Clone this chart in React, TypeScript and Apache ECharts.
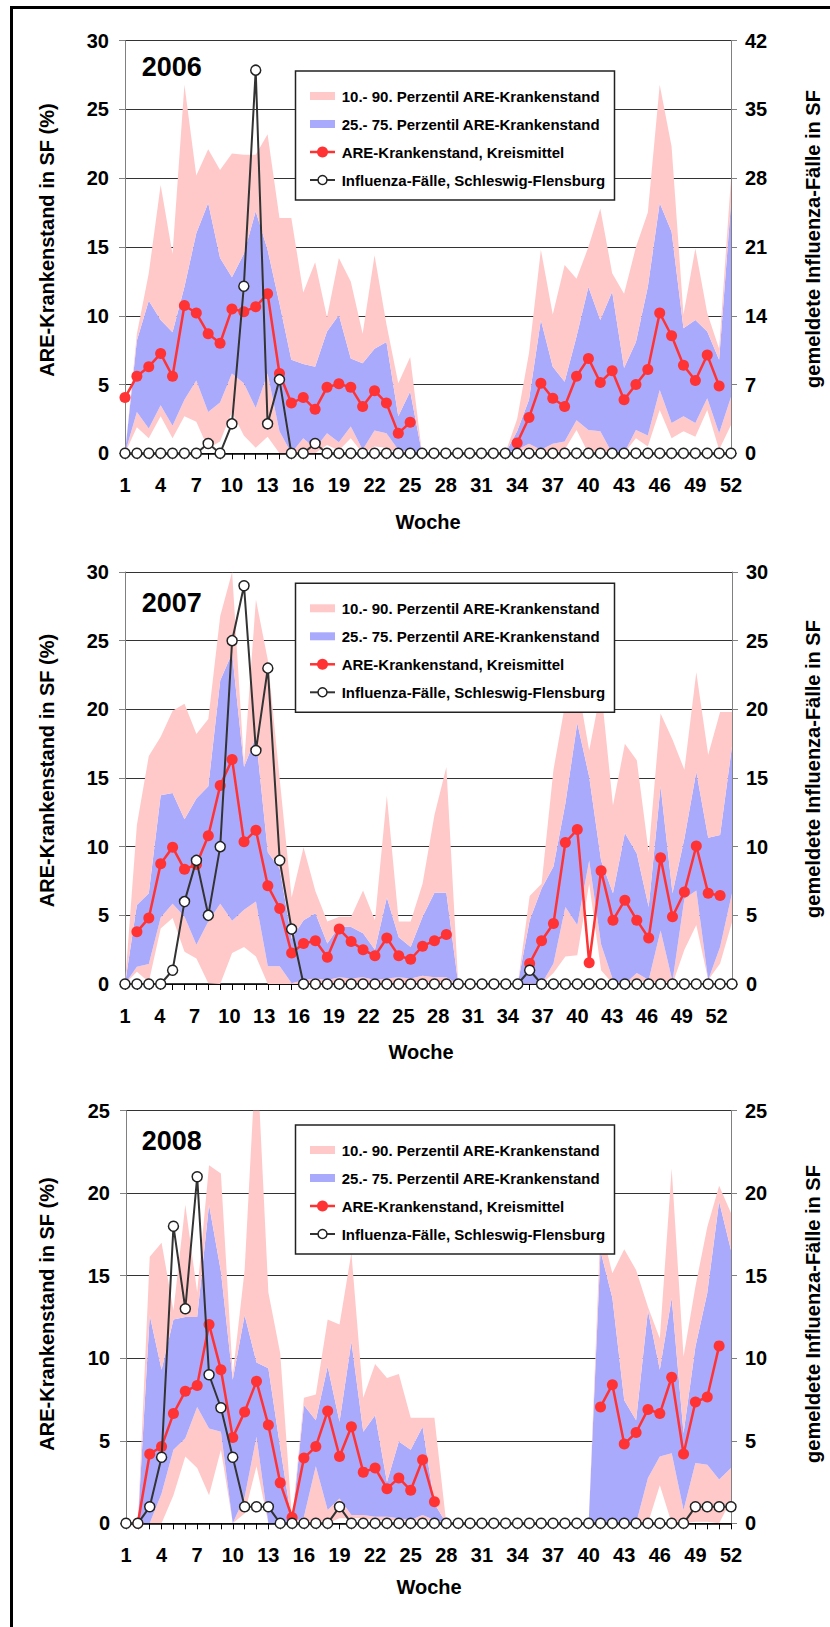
import React, { useEffect, useRef } from "react";
import * as echarts from "echarts";

// ---------- data ----------
const WEEKS = [
  "1","2","3","4","5","6","7","8","9","10","11","12","13","14","15","16","17","18","19","20",
  "21","22","23","24","25","26","27","28","29","30","31","32","33","34","35","36","37","38","39","40",
  "41","42","43","44","45","46","47","48","49","50","51","52",
];
const YEARS = ["2006", "2007", "2008"];
const LEGEND_LABELS = [
  "10.- 90. Perzentil ARE-Krankenstand",
  "25.- 75. Perzentil ARE-Krankenstand",
  "ARE-Krankenstand, Kreismittel",
  "Influenza-Fälle, Schleswig-Flensburg",
];
const LEFT_NAME = "ARE-Krankenstand in SF (%)";
const RIGHT_NAME = "gemeldete Influenza-Fälle in SF";
const X_NAME = "Woche";

// 2006
const mean06 = [4.05, 5.6, 6.3, 7.25, 5.6, 10.75, 10.2, 8.7, 8.0, 10.5,
  10.3, 10.65, 11.6, 5.8, 3.65, 4.05, 3.2, 4.8, 5.05, 4.8,
  3.4, 4.55, 3.65, 1.45, 2.25, null, null, null, null, null,
  null, null, null, 0.75, 2.6, 5.1, 4.0, 3.4, 5.6, 6.9,
  5.15, 6.0, 3.9, 5.0, 6.1, 10.2, 8.55, 6.4, 5.3, 7.15,
  4.9, null];
const flu06 = [0, 0, 0, 0, 0, 0, 0, 1, 0, 3,
  17, 39, 3, 7.5, 0, 0, 1, 0, 0, 0,
  0, 0, 0, 0, 0, 0, 0, 0, 0, 0,
  0, 0, 0, 0, 0, 0, 0, 0, 0, 0,
  0, 0, 0, 0, 0, 0, 0, 0, 0, 0,
  0, 0];
const p10_06 = [0, 1.9, 1.1, 2.7, 1.1, 2.7, 2.3, 0.35, 0.85, 3.0,
  1.3, 0.4, 1.2, 0, 0, 0, 0, 0.6, 0.2, 1.1,
  0, 0.5, 0.4, 0, 0, 0, 0, 0, 0, 0,
  0, 0, 0, 0, 0.5, 0, 0, 0.25, 1.7, 0,
  0, 0, 0, 1.1, 0.5, 3.15, 1.1, 1.6, 1.2, 3.15,
  0.25, 2.05];
const p25_06 = [0, 3.0, 1.8, 3.5, 2.0, 3.9, 5.3, 3.0, 3.7, 5.8,
  5.1, 3.3, 5.8, 1.6, 0, 1.1, 0.35, 1.45, 0.8, 1.95,
  0.25, 1.65, 1.45, 0.25, 0.1, 0, 0, 0, 0, 0,
  0, 0, 0, 0.25, 0.7, 0.25, 0.7, 0.85, 2.4, 1.7,
  1.6, 0, 0, 1.7, 1.3, 4.6, 2.2, 2.7, 2.2, 4.0,
  1.45, 4.1];
const p75_06 = [0, 8.2, 11.1, 9.7, 8.8, 12.1, 16.0, 18.2, 14.2, 12.8,
  14.5, 17.6, 14.8, 10.9, 6.8, 6.5, 6.3, 8.85, 10.05, 6.9,
  6.55, 7.6, 8.1, 2.7, 4.5, 0, 0, 0, 0, 0,
  0, 0, 0, 1.6, 3.9, 9.7, 6.3, 5.2, 8.5, 12.1,
  9.7, 11.75, 6.2, 8.1, 12.1, 18.2, 16.1, 9.1, 9.7, 8.85,
  6.8, 18.2];
const p90_06 = [0, 8.7, 13.1, 19.5, 14.5, 26.8, 20.2, 22.1, 20.6, 21.8,
  21.7, 21.7, 23.2, 17.1, 17.1, 11.7, 13.9, 9.9, 14.2, 12.5,
  8.7, 14.4, 9.4, 5.1, 7.0, 0, 0, 0, 0, 0,
  0, 0, 0, 2.5, 7.3, 14.8, 10.1, 13.7, 12.7, 15.0,
  17.8, 13.1, 11.6, 15.0, 17.5, 26.8, 22.3, 10.1, 14.9, 10.2,
  7.6, 20.0];

// 2007
const mean07 = [null, 3.8, 4.8, 8.75, 9.95, 8.35, 8.7, 10.8, 14.45, 16.35,
  10.35, 11.2, 7.15, 5.5, 2.25, 2.95, 3.15, 1.95, 4.0, 3.1,
  2.5, 2.05, 3.35, 2.05, 1.8, 2.75, 3.15, 3.6, null, null,
  null, null, null, null, 1.5, 3.15, 4.4, 10.3, 11.25, 1.55,
  8.25, 4.65, 6.1, 4.65, 3.35, 9.2, 4.9, 6.7, 10.05, 6.6,
  6.45, null];
const flu07 = [0, 0, 0, 0, 1, 6, 9, 5, 10, 25,
  29, 17, 23, 9, 4, 0, 0, 0, 0, 0,
  0, 0, 0, 0, 0, 0, 0, 0, 0, 0,
  0, 0, 0, 0, 1, 0, 0, 0, 0, 0,
  0, 0, 0, 0, 0, 0, 0, 0, 0, 0,
  0, 0];
const p10_07 = [0, 0.9, 0.15, 4.05, 4.8, 2.35, 1.85, 0.05, 0, 2.25,
  2.7, 2.0, 0, 0, 0, 0, 0.1, 0, 0.1, 0,
  0.1, 0, 0, 0.1, 0, 0.1, 0.1, 0, 0, 0,
  0, 0, 0, 0, 0, 0, 0.8, 2.0, 2.1, 7.3,
  1.0, 0, 0, 0.4, 0, 0.2, 0, 2.5, 4.3, 0.3,
  1.5, 4.5];
const p25_07 = [0, 1.25, 1.45, 4.85, 5.85, 4.9, 2.85, 4.55, 5.85, 4.6,
  5.4, 6.0, 1.3, 1.3, 0.05, 0.3, 0.4, 0.3, 0.5, 0.4,
  0.5, 0.3, 0.4, 0.5, 0.4, 0.6, 0.5, 0.5, 0, 0,
  0, 0, 0, 0, 0.05, 0, 1.5, 5.6, 4.3, 9.0,
  2.9, 0.3, 0, 0.8, 0.3, 3.9, 0.2, 6.2, 6.8, 0,
  2.7, 6.6];
const p75_07 = [0, 5.75, 6.6, 13.75, 13.9, 12.0, 13.5, 14.4, 22.1, 24.1,
  15.8, 18.0, 9.6, 8.4, 3.3, 4.65, 5.15, 2.95, 4.2, 4.15,
  3.7, 2.5, 6.3, 3.4, 2.7, 4.9, 6.65, 6.65, 0, 0,
  0, 0, 0, 0, 4.65, 6.95, 8.55, 13.15, 19.0, 15.1,
  9.0, 6.6, 11.0, 9.5, 5.6, 14.4, 6.6, 10.6, 15.45, 10.35,
  10.85, 17.3];
const p90_07 = [0, 11.6, 16.6, 18.0, 19.9, 20.4, 18.2, 19.3, 26.8, 30.0,
  16.0, 28.0, 23.6, 14.9, 6.3, 9.95, 6.75, 4.55, 4.9, 4.9,
  6.8, 4.65, 13.7, 4.55, 4.55, 7.3, 12.3, 15.8, 0, 0,
  0, 0, 0, 0, 6.4, 7.3, 15.6, 20.5, 22.0, 17.0,
  21.5, 13.0, 17.5, 16.3, 9.6, 19.7, 17.8, 15.6, 22.7, 16.4,
  19.8, 19.8];

// 2008
const mean08 = [null, 0, 4.2, 4.65, 6.65, 8.0, 8.35, 12.05, 9.3, 5.2,
  6.75, 8.6, 5.95, 2.45, 0.35, 3.95, 4.65, 6.8, 4.05, 5.85,
  3.1, 3.35, 2.1, 2.75, 2.0, 3.85, 1.3, null, null, null,
  null, null, null, null, null, null, null, null, null, null,
  7.05, 8.4, 4.8, 5.5, 6.9, 6.65, 8.85, 4.2, 7.35, 7.65,
  10.75, null];
const flu08 = [0, 0, 1, 4, 18, 13, 21, 9, 7, 4,
  1, 1, 1, 0, 0, 0, 0, 0, 1, 0,
  0, 0, 0, 0, 0, 0, 0, 0, 0, 0,
  0, 0, 0, 0, 0, 0, 0, 0, 0, 0,
  0, 0, 0, 0, 0, 0, 0, 0, 1, 1,
  1, 1];
const p10_08 = [0, 0, 0, 0, 1.7, 4.05, 3.35, 1.7, 4.45, 0,
  0.6, 3.45, 0, 0, 0, 0.2, 0, 0, 0.3, 0.3,
  0.3, 0.2, 0.2, 0.2, 0.1, 0.3, 0.1, 0, 0, 0,
  0, 0, 0, 0, 0, 0, 0, 0, 0, 0,
  0, 0, 0, 0, 0, 2.3, 0, 0, 0.1, 0.1,
  0, 1.4];
const p25_08 = [0, 0, 0, 1.8, 4.45, 5.15, 7.05, 5.75, 5.55, 0,
  1.6, 5.25, 0, 0, 0, 0.4, 3.45, 0.8, 1.5, 0.5,
  0.5, 0.4, 0.4, 0.3, 0.2, 0.5, 0.2, 0, 0, 0,
  0, 0, 0, 0, 0, 0, 0, 0, 0, 0,
  0, 0, 0, 0, 2.75, 4.05, 4.25, 0.8, 3.65, 3.55,
  2.65, 3.35];
const p75_08 = [0, 0, 12.6, 9.3, 12.35, 12.5, 12.5, 19.3, 15.25, 8.7,
  12.6, 9.75, 9.4, 4.6, 0, 7.15, 6.25, 9.5, 6.15, 11.0,
  5.55, 6.55, 2.5, 4.95, 4.45, 5.85, 1.2, 0, 0, 0,
  0, 0, 0, 0, 0, 0, 0, 0, 0, 0,
  16.5, 13.65, 7.45, 6.25, 12.9, 9.3, 13.65, 5.45, 10.7, 13.95,
  19.5, 16.55];
const p90_08 = [0, 0, 16.15, 17.0, 12.9, 19.3, 14.0, 21.7, 21.2, 9.0,
  15.35, 29.0, 14.0, 10.3, 0.2, 7.6, 7.8, 12.35, 12.05, 16.4,
  7.6, 9.65, 8.8, 9.05, 6.4, 6.4, 6.4, 0, 0, 0,
  0, 0, 0, 0, 0, 0, 0, 0, 0, 0,
  18.0, 15.15, 16.6, 15.35, 13.1, 11.2, 21.5, 10.1, 14.35, 17.95,
  20.45, 18.8];

// axis ranges
const LEFT_MAX = [30, 30, 25];
const LEFT_STEP = [5, 5, 5];
const RIGHT_MAX = [42, 30, 25];
const RIGHT_STEP = [7, 5, 5];

// ---------- styling / layout ----------
const FONT = '"Liberation Sans", Arial, Helvetica, sans-serif';
const PINK = "#ffc9c9";
const BLUE = "#aaaafd";
const RED = "#ff3333";
const DARK = "#333333";

const PANELS = [
  {
    grid: { left: 125, top: 40.7, width: 606, height: 412.6 },
    p10: p10_06, p25: p25_06, p75: p75_06, p90: p90_06, mean: mean06, flu: flu06,
    altLabels: false, titleY: 67.3, legendTop: 71, leftNameY: 240, rightNameY: 239,
    xNameX: 428, xNameY: 521.7,
  },
  {
    grid: { left: 125, top: 572, width: 607, height: 412 },
    p10: p10_07, p25: p25_07, p75: p75_07, p90: p90_07, mean: mean07, flu: flu07,
    altLabels: true, titleY: 602.5, legendTop: 583.3, leftNameY: 770.5, rightNameY: 769,
    xNameX: 421, xNameY: 1052,
  },
  {
    grid: { left: 126, top: 1110.7, width: 605, height: 412.6 },
    p10: p10_08, p25: p25_08, p75: p75_08, p90: p90_08, mean: mean08, flu: flu08,
    altLabels: false, titleY: 1141.2, legendTop: 1125, leftNameY: 1314, rightNameY: 1314,
    xNameX: 429, xNameY: 1587,
  },
];

const tickLabel = { fontSize: 20, fontWeight: "bold" as const, color: "#000", fontFamily: FONT };

function diff(a: number[], b: number[]) {
  return a.map((v, i) => Math.max(0, v - b[i]));
}

function txt(x: number, y: number, s: string, font: string, align: string, valign: string, rotation = 0) {
  return {
    type: "text",
    x,
    y,
    rotation,
    z: 100,
    silent: true,
    style: {
      text: s,
      font,
      fill: "#000",
      align,
      textAlign: align,
      verticalAlign: valign,
      textVerticalAlign: valign,
    },
  };
}

function legendGraphics(top: number) {
  const lx = 295.5;
  const rows = [25, 53, 81, 109].map((d) => top + d);
  const items: any[] = [
    {
      type: "rect", z: 100, silent: true,
      shape: { x: lx, y: top, width: 319, height: 129 },
      style: { fill: "#fff", stroke: "#222", lineWidth: 1.5 },
    },
    { type: "rect", z: 101, silent: true, shape: { x: 310, y: rows[0] - 4, width: 25, height: 8 }, style: { fill: PINK } },
    { type: "rect", z: 101, silent: true, shape: { x: 310, y: rows[1] - 4, width: 25, height: 8 }, style: { fill: BLUE } },
    { type: "line", z: 101, silent: true, shape: { x1: 310, y1: rows[2], x2: 335, y2: rows[2] }, style: { stroke: RED, lineWidth: 2.5 } },
    { type: "circle", z: 102, silent: true, shape: { cx: 322.5, cy: rows[2], r: 5.5 }, style: { fill: RED } },
    { type: "line", z: 101, silent: true, shape: { x1: 310, y1: rows[3], x2: 335, y2: rows[3] }, style: { stroke: DARK, lineWidth: 2 } },
    { type: "circle", z: 102, silent: true, shape: { cx: 322.5, cy: rows[3], r: 4.5 }, style: { fill: "#fff", stroke: "#222", lineWidth: 1.5 } },
  ];
  LEGEND_LABELS.forEach((l, i) => {
    const t: any = txt(341.7, rows[i], l, `bold 15px ${FONT}`, "left", "middle");
    t.z = 102;
    items.push(t);
  });
  return items;
}

function buildOption() {
  const grid: any[] = [];
  const xAxis: any[] = [];
  const yAxis: any[] = [];
  const series: any[] = [];
  const graphic: any[] = [];

  PANELS.forEach((p, i) => {
    grid.push({ ...p.grid, containLabel: false });

    const catIdx = xAxis.length;
    xAxis.push({
      type: "category",
      gridIndex: i,
      data: WEEKS,
      boundaryGap: false,
      position: "bottom",
      axisLine: { show: true, onZero: false, lineStyle: { color: "#000", width: 1.5 } },
      axisTick: { show: true, interval: 0, length: 6, lineStyle: { color: "#000", width: 1 } },
      axisLabel: p.altLabels ? { show: false } : { show: true, interval: 2, margin: 22, ...tickLabel },
      splitLine: { show: false },
    });
    if (p.altLabels) {
      xAxis.push({
        type: "value",
        gridIndex: i,
        position: "bottom",
        min: 0,
        max: 52.33,
        interval: 3,
        axisLine: { show: false },
        axisTick: { show: false },
        splitLine: { show: false },
        axisLabel: {
          show: true,
          margin: 22,
          ...tickLabel,
          formatter: (v: number) => (Math.abs(v - Math.round(v)) < 1e-6 && Math.round(v) % 3 === 0 ? String(Math.round(v) + 1) : ""),
        },
      });
    }

    const leftIdx = yAxis.length;
    yAxis.push({
      type: "value",
      gridIndex: i,
      position: "left",
      min: 0,
      max: LEFT_MAX[i],
      interval: LEFT_STEP[i],
      axisLine: { show: true, lineStyle: { color: "#808080", width: 1 } },
      axisTick: { show: true, length: 6, lineStyle: { color: "#808080" } },
      axisLabel: { margin: 16, ...tickLabel },
      splitLine: { show: true, lineStyle: { color: "#333", width: 1 } },
    });
    const rightIdx = yAxis.length;
    yAxis.push({
      type: "value",
      gridIndex: i,
      position: "right",
      min: 0,
      max: RIGHT_MAX[i],
      interval: RIGHT_STEP[i],
      axisLine: { show: true, lineStyle: { color: "#808080", width: 1 } },
      axisTick: { show: true, length: 6, lineStyle: { color: "#808080" } },
      axisLabel: { margin: 14, ...tickLabel },
      splitLine: { show: false },
    });

    const stack = "band" + i;
    const bandBase = {
      type: "line",
      xAxisIndex: catIdx,
      yAxisIndex: leftIdx,
      stack,
      symbol: "none",
      silent: true,
      lineStyle: { width: 0, opacity: 0 },
      z: 1,
    };
    series.push({ ...bandBase, name: "p10_" + i, data: p.p10 });
    series.push({ ...bandBase, name: "lo_" + i, data: diff(p.p25, p.p10), areaStyle: { color: PINK, opacity: 1 } });
    series.push({ ...bandBase, name: "mid_" + i, data: diff(p.p75, p.p25), areaStyle: { color: BLUE, opacity: 1 } });
    series.push({ ...bandBase, name: "hi_" + i, data: diff(p.p90, p.p75), areaStyle: { color: PINK, opacity: 1 } });

    series.push({
      type: "line",
      name: "mean_" + i,
      xAxisIndex: catIdx,
      yAxisIndex: leftIdx,
      data: p.mean,
      connectNulls: false,
      symbol: "circle",
      symbolSize: 11,
      showAllSymbol: true,
      lineStyle: { color: RED, width: 2.5 },
      itemStyle: { color: RED },
      z: 3,
      silent: true,
    });
    series.push({
      type: "line",
      name: "flu_" + i,
      xAxisIndex: catIdx,
      yAxisIndex: rightIdx,
      data: p.flu,
      symbol: "circle",
      symbolSize: 10,
      showAllSymbol: true,
      lineStyle: { color: DARK, width: 2 },
      itemStyle: { color: "#fff", borderColor: "#222", borderWidth: 1.5 },
      z: 4,
      silent: true,
    });

    // texts
    graphic.push(txt(141.7, p.titleY, YEARS[i], `bold 27px ${FONT}`, "left", "middle"));
    graphic.push(txt(47, p.leftNameY, LEFT_NAME, `bold 20px ${FONT}`, "center", "middle", Math.PI / 2));
    graphic.push(txt(813, p.rightNameY, RIGHT_NAME, `bold 20px ${FONT}`, "center", "middle", Math.PI / 2));
    graphic.push(txt(p.xNameX, p.xNameY, X_NAME, `bold 20px ${FONT}`, "center", "middle"));
    legendGraphics(p.legendTop).forEach((g) => graphic.push(g));
  });

  // outer frame (left and top edges)
  graphic.push({ type: "line", z: 100, silent: true, shape: { x1: 11.5, y1: 6, x2: 11.5, y2: 1627 }, style: { stroke: "#000", lineWidth: 3 } });
  graphic.push({ type: "line", z: 100, silent: true, shape: { x1: 10, y1: 7.5, x2: 830, y2: 7.5 }, style: { stroke: "#000", lineWidth: 3 } });

  return {
    animation: false,
    backgroundColor: "#fff",
    textStyle: { fontFamily: FONT },
    grid,
    xAxis,
    yAxis,
    series,
    graphic: { elements: graphic },
  };
}

export default function App() {
  const ref = useRef<HTMLDivElement>(null);
  useEffect(() => {
    document.body.style.margin = "0";
    const chart = echarts.init(ref.current as HTMLDivElement, null, { renderer: "svg" });
    chart.setOption(buildOption() as any);
    return () => {
      chart.dispose();
    };
  }, []);
  return (
    <div
      ref={ref}
      style={{ position: "absolute", left: 0, top: 0, width: 830, height: 1627, background: "#fff" }}
    />
  );
}
